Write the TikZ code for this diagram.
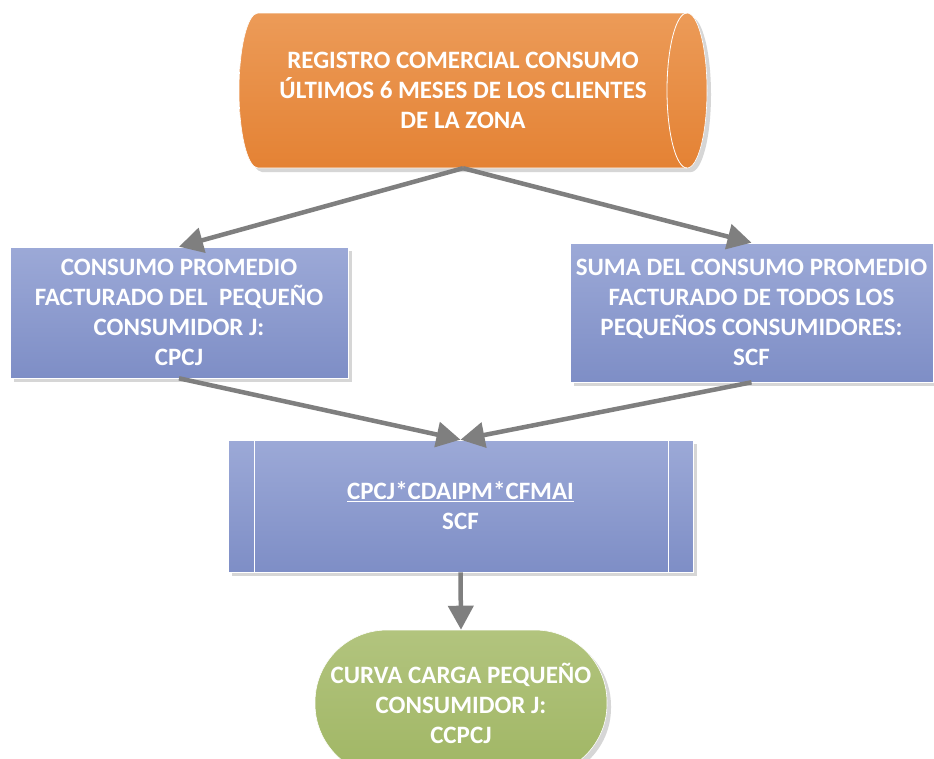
\documentclass[tikz,border=0pt]{standalone}
\usepackage{fontspec}
\setmainfont{Carlito}
\usetikzlibrary{arrows.meta,shadows}
\definecolor{orT}{RGB}{236,155,88}
\definecolor{orB}{RGB}{228,130,52}
\definecolor{blT}{RGB}{156,169,215}
\definecolor{blB}{RGB}{126,142,198}
\definecolor{grT}{RGB}{178,196,126}
\definecolor{grB}{RGB}{160,182,100}
\definecolor{arr}{RGB}{127,127,127}
\definecolor{shd}{RGB}{214,214,214}
\begin{document}
\begin{tikzpicture}[x=1pt,y=-1pt,
  txt/.style={text=white, font=\fontsize{25}{30}\selectfont\bfseries, align=center},
  boxshadow/.style={general shadow={fill=shd, shadow xshift=4pt, shadow yshift=-4pt}},
  bluebox/.style={txt, draw=white, line width=0.6pt, top color=blT, bottom color=blB, inner sep=0pt, boxshadow},
  conn/.style={draw=arr, line width=4.5pt, -{Triangle[length=24pt,width=25pt]}}]
\clip (0,0) rectangle (934,758);
\fill[white] (0,0) rectangle (934,758);
% cylinder shadow
\fill[shd] (262,17) -- (691,17) arc[start angle=90, end angle=-90, x radius=20pt, y radius=77.5pt]
  -- (262,172) arc[start angle=270, end angle=90, x radius=19pt, y radius=77.5pt] -- cycle;
% cylinder body
\path[top color=orT, bottom color=orB, draw=white, line width=0.6pt]
  (258,13) -- (687,13) arc[start angle=90, end angle=-90, x radius=20pt, y radius=77.5pt]
  -- (258,168) arc[start angle=270, end angle=90, x radius=19pt, y radius=77.5pt] -- cycle;
\draw[white, line width=0.8pt] (687,13) arc[start angle=90, end angle=270, x radius=20pt, y radius=77.5pt];
\node[txt, minimum width=448pt, minimum height=155pt, inner sep=0pt] (reg) at (463,90.5)
  {REGISTRO COMERCIAL CONSUMO\\ÚLTIMOS 6 MESES DE LOS CLIENTES\\DE LA ZONA};
% boxes
\node[bluebox, minimum width=338pt, minimum height=131pt] (cpcj) at (179,312.5)
  {CONSUMO PROMEDIO\\FACTURADO DEL~ PEQUEÑO\\CONSUMIDOR J:\\CPCJ};
\node[bluebox, minimum width=363pt, minimum height=139pt] (scf) at (751.5,312.5)
  {SUMA DEL CONSUMO PROMEDIO\\FACTURADO DE TODOS LOS\\PEQUEÑOS CONSUMIDORES:\\SCF};
\node[bluebox, minimum width=465pt, minimum height=132pt] (form) at (460.5,506)
  {\underline{CPCJ*CDAIPM*CFMAI}\\SCF};
\draw[white, line width=0.8pt] (254,440) -- (254,572) (668,440) -- (668,572);
\node[txt, draw=white, line width=0.6pt, top color=grT, bottom color=grB, boxshadow,
  minimum width=292pt, minimum height=146pt, rounded corners=72pt, inner sep=0pt] (ccpcj) at (461,703)
  {CURVA CARGA PEQUEÑO\\CONSUMIDOR J:\\CCPCJ};
% connectors
\draw[conn] (reg.south) -- (cpcj.north);
\draw[conn] (reg.south) -- (scf.north);
\draw[conn] (cpcj.south) -- (form.north);
\draw[conn] (scf.south) -- (form.north);
\draw[conn] (form.south) -- (ccpcj.north);
\end{tikzpicture}
\end{document}
